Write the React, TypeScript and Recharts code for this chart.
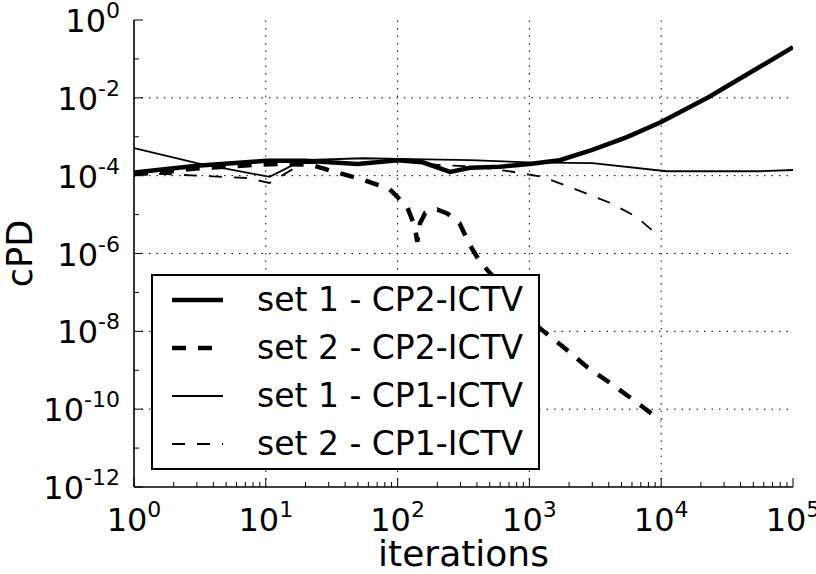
import React from "react";
import { LineChart, Line, XAxis, YAxis, ReferenceLine } from "recharts";

// iterations / cPD values
const set1Cp2Iter = [1, 3, 10, 20, 50, 100, 155, 250, 355, 600, 1000, 1700, 3000, 5500, 10000, 23000, 47000, 100000];
const set1Cp2Val = [1.2e-4, 1.8e-4, 2.4e-4, 2.4e-4, 2.0e-4, 2.5e-4, 2.2e-4, 1.25e-4, 1.6e-4, 1.7e-4, 2.0e-4, 2.5e-4, 4.6e-4, 9.8e-4, 2.4e-3, 1.05e-2, 4.4e-2, 0.2];

const set2Cp2Iter = [1, 1.5, 2.8, 8.3, 13, 22, 35, 55, 87, 118, 135, 141, 148, 162, 200, 240, 295, 355, 420, 500, 800, 1200, 1800, 2750, 4100, 6200, 10000];
const set2Cp2Val = [1.1e-4, 1.18e-4, 1.5e-4, 1.9e-4, 2.0e-4, 1.9e-4, 1.2e-4, 7.8e-5, 4.5e-5, 1.6e-5, 5e-6, 2e-6, 6e-6, 1.1e-5, 1.35e-5, 1.05e-5, 6e-6, 1.6e-6, 6.3e-7, 3.2e-7, 6.3e-8, 1.2e-8, 4e-9, 1.2e-9, 4.7e-10, 1.7e-10, 5e-11];

const set1Cp1Iter = [1, 3, 10.7, 19, 55, 100, 355, 1000, 3000, 11000, 56000, 100000];
const set1Cp1Val = [5.1e-4, 2.1e-4, 9.3e-5, 2.5e-4, 2.8e-4, 2.7e-4, 2.5e-4, 2.2e-4, 2.1e-4, 1.3e-4, 1.3e-4, 1.4e-4];

const set2Cp1Iter = [1, 7.2, 10.7, 19, 50, 100, 200, 400, 740, 1260, 2300, 4100, 6500, 8900, 10000];
const set2Cp1Val = [1.2e-4, 8.7e-5, 6.5e-5, 2.1e-4, 2.1e-4, 2.4e-4, 1.9e-4, 1.7e-4, 1.26e-4, 9.3e-5, 4.3e-5, 2.0e-5, 8.7e-6, 3.5e-6, 2.8e-6];

const seriesNames = ["set 1 - CP2-ICTV", "set 2 - CP2-ICTV", "set 1 - CP1-ICTV", "set 2 - CP1-ICTV"];

const xMajor = [1, 10, 100, 1000, 10000, 100000];
const xGrid = [10, 100, 1000, 10000];
const yMajorExp = [0, -2, -4, -6, -8, -10, -12];
const yMinorExp = [-1, -3, -5, -7, -9, -11];
const yGridExp = [-2, -4, -6, -8, -10];

const FONT = "DejaVu Sans";

const toPoints = (xs: number[], ys: number[]) => xs.map((x, i) => ({ x, y: ys[i] }));

const series = [
  { name: seriesNames[0], data: toPoints(set1Cp2Iter, set1Cp2Val), width: 4.5, dash: undefined },
  { name: seriesNames[1], data: toPoints(set2Cp2Iter, set2Cp2Val), width: 4.5, dash: "14 12" },
  { name: seriesNames[2], data: toPoints(set1Cp1Iter, set1Cp1Val), width: 1.8, dash: undefined },
  { name: seriesNames[3], data: toPoints(set2Cp1Iter, set2Cp1Val), width: 1.8, dash: "13 12" },
];

const xTicks: number[] = [];
xMajor.forEach((m, i) => {
  xTicks.push(m);
  if (i < xMajor.length - 1) for (let k = 2; k <= 9; k++) xTicks.push(m * k);
});
const yTicks = [...yMajorExp, ...yMinorExp].sort((a, b) => a - b).map((e) => Math.pow(10, e));

const isMajorX = (v: number) => Math.abs(Math.log10(v) - Math.round(Math.log10(v))) < 1e-9;
const isMajorY = (v: number) => Math.round(Math.log10(v)) % 2 === 0;

function PowLabel({ x, y, exp, anchor }: { x: number; y: number; exp: number; anchor: string }) {
  return (
    <text x={x} y={y} textAnchor={anchor} fontFamily={FONT} fontSize={32} fill="#000">
      <tspan>10</tspan>
      <tspan dy={-14} fontSize={22}>{exp < 0 ? "-" + Math.abs(exp) : String(exp)}</tspan>
    </text>
  );
}

function XTick(props: any) {
  const { x, y, payload, side } = props;
  const v = payload.value;
  const major = isMajorX(v);
  const len = major ? 9 : 5;
  const dir = side === "bottom" ? -1 : 1;
  return (
    <g>
      <line x1={x} x2={x} y1={y} y2={y + dir * len} stroke="#000" strokeWidth={1} />
      {side === "bottom" && major && <PowLabel x={x} y={y + 44} exp={Math.round(Math.log10(v))} anchor="middle" />}
    </g>
  );
}

function YTick(props: any) {
  const { x, y, payload, side } = props;
  const v = payload.value;
  const major = isMajorY(v);
  const len = major ? 9 : 5;
  const dir = side === "left" ? 1 : -1;
  return (
    <g>
      <line x1={x} x2={x + dir * len} y1={y} y2={y} stroke="#000" strokeWidth={1} />
      {side === "left" && major && <PowLabel x={x - 14} y={y + 12} exp={Math.round(Math.log10(v))} anchor="end" />}
    </g>
  );
}

function LegendBox() {
  return (
    <div
      style={{
        position: "absolute",
        left: 151,
        top: 274,
        width: 389,
        height: 196,
        boxSizing: "border-box",
        border: "2px solid #000",
        background: "#fff",
        fontFamily: FONT,
        fontSize: 33,
        color: "#000",
      }}
    >
      {series.map((s) => (
        <div key={s.name} style={{ height: 48, display: "flex", alignItems: "center" }}>
          <svg width={104} height={48} style={{ flex: "none" }}>
            <line x1={19} x2={70} y1={24} y2={24} stroke="#000" strokeWidth={s.width} strokeDasharray={s.dash} />
          </svg>
          <span style={{ whiteSpace: "nowrap", lineHeight: "48px" }}>{s.name}</span>
        </div>
      ))}
    </div>
  );
}

const axisLine = { stroke: "#000", strokeWidth: 1.6 };

export default function App() {
  return (
    <div style={{ position: "absolute", left: 0, top: 0, width: 816, height: 574, background: "#fff" }}>
      <LineChart width={816} height={574} margin={{ top: 20, right: 23, bottom: 0, left: 0 }}>
        <XAxis
          xAxisId="b"
          dataKey="x"
          type="number"
          scale="log"
          domain={[1, 100000]}
          allowDataOverflow
          ticks={xTicks}
          interval={0}
          tickSize={0}
          tickMargin={0}
          tickLine={false}
          height={87}
          axisLine={axisLine}
          tick={(p: any) => <XTick {...p} side="bottom" />}
          label={{ value: "iterations", position: "insideBottom", offset: 8, fontSize: 36, fontFamily: FONT, fill: "#000" }}
        />
        <XAxis
          xAxisId="t"
          orientation="top"
          dataKey="x"
          type="number"
          scale="log"
          domain={[1, 100000]}
          allowDataOverflow
          ticks={xTicks}
          interval={0}
          tickSize={0}
          tickMargin={0}
          tickLine={false}
          height={0}
          axisLine={axisLine}
          tick={(p: any) => <XTick {...p} side="top" />}
        />
        <YAxis
          yAxisId="l"
          dataKey="y"
          type="number"
          scale="log"
          domain={[1e-12, 1]}
          allowDataOverflow
          ticks={yTicks}
          interval={0}
          tickSize={0}
          tickMargin={0}
          tickLine={false}
          width={134}
          axisLine={axisLine}
          tick={(p: any) => <YTick {...p} side="left" />}
          label={{
            content: (props: any) => {
              const vb = props.viewBox;
              const cx = vb.x + 32;
              const cy = vb.y + vb.height / 2;
              return (
                <text x={cx} y={cy} transform={`rotate(-90 ${cx} ${cy})`} textAnchor="middle" fontFamily={FONT} fontSize={35} fill="#000">
                  cPD
                </text>
              );
            },
          }}
        />
        <YAxis
          yAxisId="r"
          orientation="right"
          dataKey="y"
          type="number"
          scale="log"
          domain={[1e-12, 1]}
          allowDataOverflow
          ticks={yTicks}
          interval={0}
          tickSize={0}
          tickMargin={0}
          tickLine={false}
          width={0}
          axisLine={axisLine}
          tick={(p: any) => <YTick {...p} side="right" />}
        />
        {xGrid.map((v) => (
          <ReferenceLine key={"gx" + v} xAxisId="b" yAxisId="l" x={v} stroke="#000" strokeWidth={1} strokeDasharray="1.5 6" />
        ))}
        {yGridExp.map((e) => (
          <ReferenceLine key={"gy" + e} xAxisId="b" yAxisId="l" y={Math.pow(10, e)} stroke="#000" strokeWidth={1} strokeDasharray="1.5 6" />
        ))}
        {series.map((s) => (
          <Line
            key={s.name}
            xAxisId="b"
            yAxisId="l"
            data={s.data}
            dataKey="y"
            name={s.name}
            type="linear"
            stroke="#000"
            strokeWidth={s.width}
            strokeDasharray={s.dash}
            dot={false}
            activeDot={false}
            isAnimationActive={false}
          />
        ))}
      </LineChart>
      <LegendBox />
    </div>
  );
}
